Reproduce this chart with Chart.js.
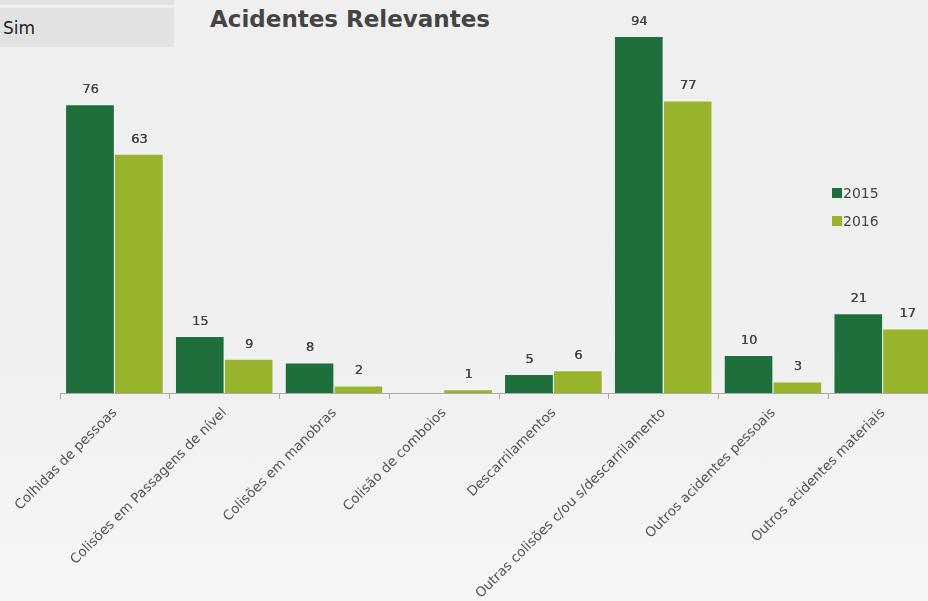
<!DOCTYPE html>
<html><head><meta charset="utf-8">
<script src="https://cdn.jsdelivr.net/npm/chart.js@4"></script>
<style>
html,body{margin:0;padding:0;width:928px;height:601px;overflow:hidden;}
body{background:linear-gradient(#efefef 0%,#f0f0f0 60%,#f6f6f6 100%);font-family:"DejaVu Sans",sans-serif;position:relative;}
#strip{position:absolute;left:0;top:0;width:174px;height:5px;background:#e2e2e2;}
#sim{position:absolute;left:0;top:8px;width:174px;height:39px;background:#e2e2e2;color:#222;font-size:17px;line-height:41px;padding-left:3px;box-sizing:border-box;}
#title{position:absolute;left:210px;top:6px;font-size:23px;font-weight:bold;color:#444;white-space:nowrap;}
#wrap{position:absolute;left:0;top:0;width:940px;height:601px;}
</style></head><body>
<div id="strip"></div>
<div id="sim">Sim</div>
<div id="title">Acidentes Relevantes</div>
<div id="wrap"><canvas id="c"></canvas></div>
<script>
const categories = ["Colhidas de pessoas","Colisões em Passagens de nível","Colisões em manobras","Colisão de comboios","Descarrilamentos","Outras colisões c/ou s/descarrilamento","Outros acidentes pessoais","Outros acidentes materiais"];
const seriesNames = ["2015","2016"];
const values2015 = [76,15,8,0,5,94,10,21];
const values2016 = [63,9,2,1,6,77,3,17];
const colors = ["#1e6f3b","#97b42c"];

const valueLabels = {
  id:'valueLabels',
  afterDatasetsDraw(chart){
    const ctx = chart.ctx;
    ctx.save();
    ctx.font = '13px "DejaVu Sans", sans-serif';
    ctx.fillStyle = '#444';
    ctx.textAlign = 'center';
    ctx.textBaseline = 'bottom';
    chart.data.datasets.forEach((ds,i)=>{
      chart.getDatasetMeta(i).data.forEach((bar,j)=>{
        const v = ds.data[j];
        if (!v) return;
        ctx.fillText(String(v), bar.x, bar.y - 8);
        ctx.fillText(String(v), bar.x + 0.4, bar.y - 8);
      });
    });
    ctx.restore();
  }
};
const customLegend = {
  id:'customLegend',
  afterDraw(chart){
    const ctx = chart.ctx;
    ctx.save();
    ctx.font = '14px "DejaVu Sans", sans-serif';
    ctx.textBaseline = 'middle';
    ctx.textAlign = 'left';
    chart.data.datasets.forEach((ds,i)=>{
      const y = 193 + i*28;
      ctx.fillStyle = ds.backgroundColor;
      ctx.fillRect(832, y-5, 10, 10);
      ctx.fillStyle = '#444';
      ctx.fillText(ds.label, 843, y+1);
    });
    ctx.restore();
  }
};

new Chart(document.getElementById('c'), {
  type:'bar',
  data:{
    labels:categories,
    datasets:[
      {label:seriesNames[0], data:values2015, backgroundColor:colors[0], borderColor:'rgba(255,255,255,0.35)', borderWidth:{top:1,left:0,right:1,bottom:0}},
      {label:seriesNames[1], data:values2016, backgroundColor:colors[1], borderColor:'rgba(255,255,255,0.35)', borderWidth:{top:1,left:0,right:1,bottom:0}}
    ]
  },
  options:{
    responsive:true, maintainAspectRatio:false, animation:false,
    layout:{padding:{left:60,top:36,right:2,bottom:0}},
    plugins:{legend:{display:false}, tooltip:{enabled:false}, title:{display:false}},
    datasets:{bar:{categoryPercentage:0.89, barPercentage:1.0}},
    scales:{
      x:{
        grid:{drawOnChartArea:false, drawTicks:true, tickLength:6, color:'#aaa', offset:true},
        border:{display:true, color:'#aaa', width:1},
        ticks:{minRotation:45, maxRotation:45, autoSkip:false, color:'#555', padding:6,
          font:{family:'"DejaVu Sans", sans-serif', size:13.5}},
        afterFit(s){ s.height = 208; s.paddingLeft = 0; s.paddingRight = 0; }
      },
      y:{display:false, min:0, max:94}
    }
  },
  plugins:[valueLabels, customLegend]
});
</script>
</body></html>
